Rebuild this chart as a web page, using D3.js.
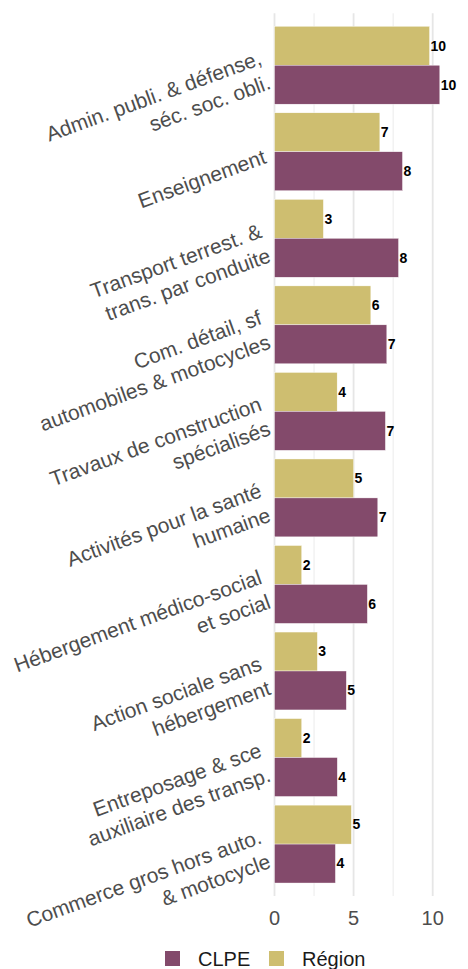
<!DOCTYPE html>
<html>
<head>
<meta charset="utf-8">
<script src="https://cdn.jsdelivr.net/npm/d3@7"></script>
<style>
  html, body { margin: 0; padding: 0; background: #fff; }
  svg { display: block; font-family: "Liberation Sans", Arial, sans-serif; }
</style>
</head>
<body>
<svg id="chart" width="468" height="969"></svg>
<script>
var categories = [
  "Admin. publi. & défense,\nséc. soc. obli.",
  "Enseignement",
  "Transport terrest. &\ntrans. par conduite",
  "Com. détail, sf\nautomobiles & motocycles",
  "Travaux de construction\nspécialisés",
  "Activités pour la santé\nhumaine",
  "Hébergement médico-social\net social",
  "Action sociale sans\nhébergement",
  "Entreposage & sce\nauxiliaire des transp.",
  "Commerce gros hors auto.\n& motocycle"
];
var regionValues = [9.8, 6.66, 3.09, 6.09, 3.96, 5.0, 1.72, 2.71, 1.72, 4.86];
var clpeValues = [10.45, 8.09, 7.84, 7.1, 7.01, 6.53, 5.87, 4.54, 3.97, 3.85];
var seriesNames = ["Région", "CLPE"];
var legendNames = ["CLPE", "Région"];
var xTicks = [0, 5, 10];
var xMinorTicks = [2.5, 7.5];

var COLORS = {"CLPE": "#834a6b", "Région": "#cebe70"};
var PANEL_LEFT = 274.5, PANEL_RIGHT = 467.5, PANEL_TOP = 13.3, PANEL_BOTTOM = 896;

var svg = d3.select("#chart");

var x = d3.scaleLinear().domain([0, 12.2]).range([PANEL_LEFT, PANEL_RIGHT]);
var y = d3.scaleBand().domain(categories).range([PANEL_TOP, PANEL_BOTTOM])
    .paddingInner(0.1).paddingOuter(0.15);
var ySub = d3.scaleBand().domain(seriesNames).range([0, y.bandwidth()]);

// grid lines
svg.append("g").selectAll("line.minor")
    .data(xMinorTicks).enter().append("line")
    .attr("class", "minor")
    .attr("x1", d => x(d)).attr("x2", d => x(d))
    .attr("y1", PANEL_TOP).attr("y2", PANEL_BOTTOM)
    .style("stroke", "#ebebeb").style("stroke-width", 1);
svg.append("g").selectAll("line.major")
    .data(xTicks).enter().append("line")
    .attr("class", "major")
    .attr("x1", d => x(d)).attr("x2", d => x(d))
    .attr("y1", PANEL_TOP).attr("y2", PANEL_BOTTOM)
    .style("stroke", "#e6e6e6").style("stroke-width", 1.8);

// bars
var rows = categories.map(function(c, i) {
  return {cat: c, values: [
    {series: "Région", value: regionValues[i]},
    {series: "CLPE", value: clpeValues[i]}
  ]};
});

var groups = svg.append("g").selectAll("g.group")
    .data(rows).enter().append("g")
    .attr("class", "group")
    .attr("transform", d => "translate(0," + y(d.cat) + ")");

groups.selectAll("rect")
    .data(d => d.values).enter().append("rect")
    .attr("x", x(0))
    .attr("y", d => ySub(d.series))
    .attr("width", d => x(d.value) - x(0))
    .attr("height", ySub.bandwidth())
    .style("fill", d => COLORS[d.series])
    .style("stroke", "#fff")
    .style("stroke-width", 0.4);

// value labels
groups.selectAll("text.value")
    .data(d => d.values).enter().append("text")
    .attr("class", "value")
    .attr("x", d => x(d.value) + 1)
    .attr("y", d => ySub(d.series) + ySub.bandwidth() / 2)
    .attr("dy", "0.35em")
    .style("font-size", "14px")
    .style("font-weight", "bold")
    .style("fill", "#000")
    .text(d => Math.round(d.value));

// category labels, rotated 20 degrees
var LINE_H = 26;
var catLabels = svg.append("g").selectAll("text.cat")
    .data(categories).enter().append("text")
    .attr("class", "cat")
    .attr("transform", d => "translate(265," + (y(d) + y.bandwidth() / 2 + 4) + ") rotate(-20)")
    .attr("text-anchor", "end")
    .style("font-size", "21px")
    .style("fill", "#4d4d4d");

catLabels.each(function(d) {
  var lines = d.split("\n");
  var t = d3.select(this);
  lines.forEach(function(line, i) {
    t.append("tspan")
        .attr("x", 0)
        .attr("y", (i - (lines.length - 1) / 2) * LINE_H)
        .attr("dy", "0.35em")
        .text(line);
  });
});

// x axis labels
svg.append("g").selectAll("text.tick")
    .data(xTicks).enter().append("text")
    .attr("class", "tick")
    .attr("x", d => x(d))
    .attr("y", 925)
    .attr("text-anchor", "middle")
    .style("font-size", "20px")
    .style("fill", "#4d4d4d")
    .text(d => d);

// legend
var legendX = [165, 269];
var legend = svg.append("g").selectAll("g.legend")
    .data(legendNames).enter().append("g")
    .attr("class", "legend")
    .attr("transform", (d, i) => "translate(" + legendX[i] + ",951)");
legend.append("rect")
    .attr("width", 15).attr("height", 15)
    .style("fill", d => COLORS[d]);
legend.append("text")
    .attr("x", 33).attr("y", 15)
    .style("font-size", "20px")
    .style("fill", "#1a1a1a")
    .text(d => d);
</script>
</body>
</html>
